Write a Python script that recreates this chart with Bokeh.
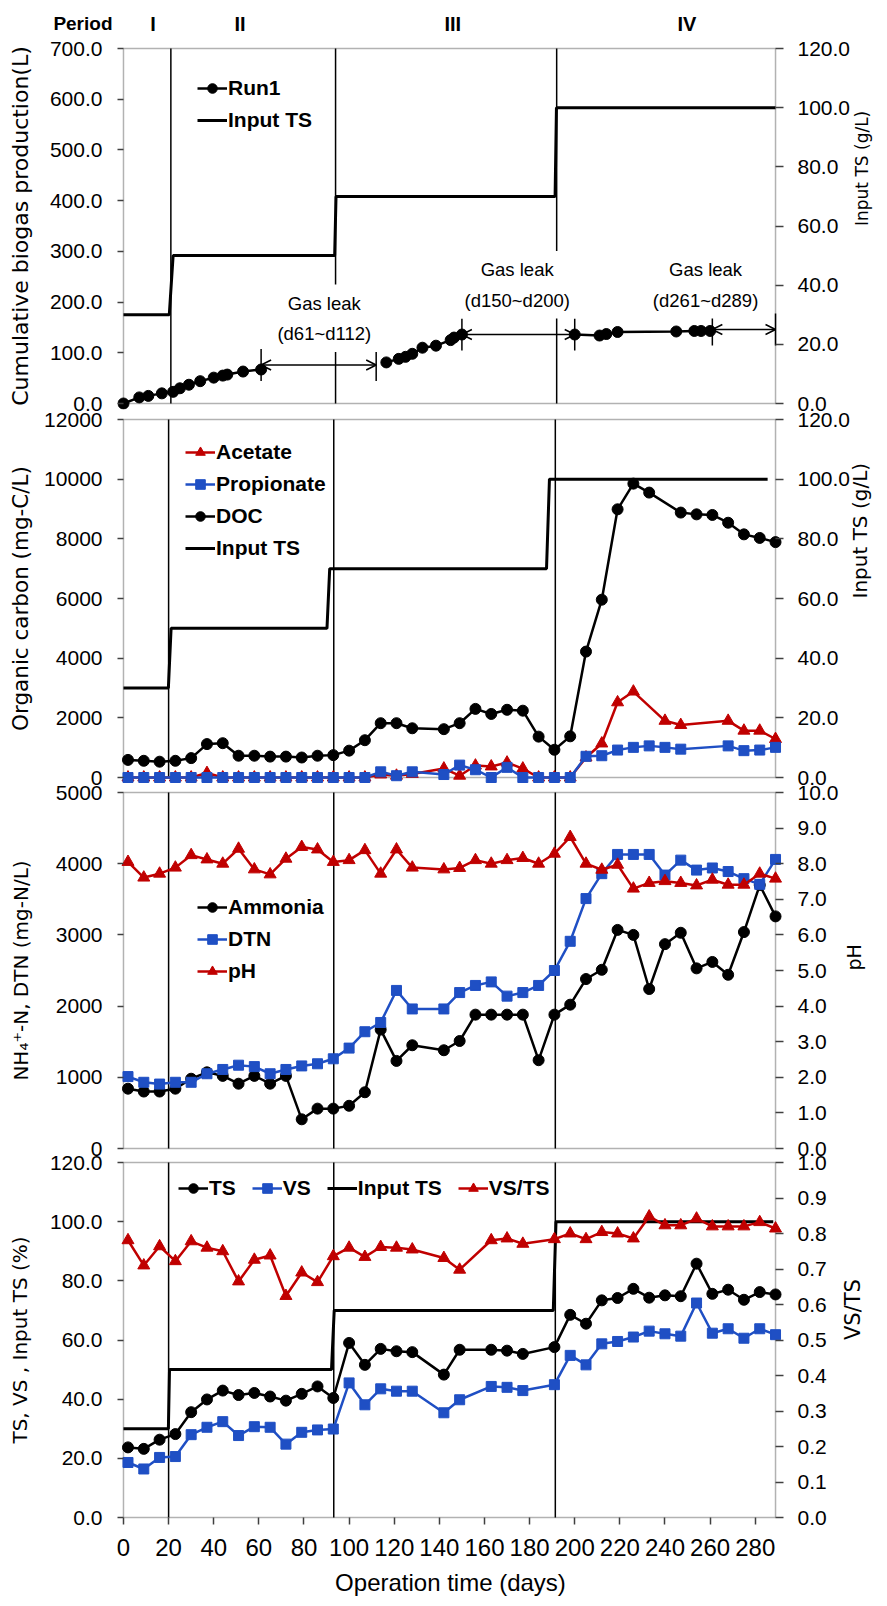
import math
from bokeh.plotting import figure
from bokeh.layouts import column
from bokeh.models import (Range1d, LinearAxis, FixedTicker, PrintfTickFormatter,
                          BoxAnnotation, Label, Legend, LegendItem, Arrow, OpenHead)
from bokeh.embed import file_html
from bokeh.resources import INLINE

nan = float("nan")

# ---------------------------------------------------------------- data
X_MAX = 289                      # last day of operation
day_ticks = list(range(0, 281, 20))

# weekly sampling days
sample_days = [2, 9, 16, 23, 30, 37, 44, 51, 58, 65, 72, 79, 86, 93, 100, 107, 114, 121, 128,
               142, 149, 156, 163, 170, 177, 184, 191, 198, 205, 212, 219, 226, 233, 240,
               247, 254, 261, 268, 275, 282, 289]

# cumulative biogas production (L), recorded between the gas leaks
biogas_days_1 = [0, 7, 11, 17, 22, 25, 29, 34, 40, 44, 46, 53, 61]
biogas_vals_1 = [0, 12, 15, 20, 23, 30, 37, 44, 51, 55, 57, 63, 67]
biogas_days_2 = [116.5, 122, 125, 128, 132.5, 138.5, 145, 146.5, 150]
biogas_vals_2 = [81, 88, 92, 98, 110, 114, 125, 130, 136]
biogas_days_3 = [200, 211, 214, 219, 245, 253, 256, 260]
biogas_vals_3 = [136, 134, 137, 141, 142, 143, 143, 143]

# gas leak periods (days)
leak_from = [61, 150, 261]
leak_to = [112, 200, 289]
leak_level = [76, 136, 146]
leak_labels = ["Gas leak\n(d61~d112)", "Gas leak\n(d150~d200)", "Gas leak\n(d261~d289)"]
leak_label_day = [89, 174.5, 258]
leak_label_level = [168, 234, 234]

# operating periods
period_names = ["I", "II", "III", "IV"]
period_label_days = [13, 51.5, 145.5, 249]
period_bounds_top = [21, 94, 192]
period_bounds = [20, 93.2, 191.4]

# input TS schedule (g/L, or %)
input_ts_vals = [30, 30, 50, 50, 70, 70, 100, 100]
input_ts_days_1 = [0, 20.3, 22, 93.6, 94.2, 191.3, 191.9, 289]
input_ts_days_2 = [0, 19.9, 21.1, 90.2, 91.4, 187.5, 188.8, 285.5]
input_ts_days_4 = [0, 19.9, 20.4, 92.2, 93.4, 190.5, 191.7, 288]

# organic carbon (mg-C/L)
doc_days = [2, 9, 16, 23, 30, 37, 44, 51, 58, 65, 72, 79, 86, 93, 100, 107, 114, 121, 128,
            142, 149, 156, 163, 170, 177, 184, 191, 198, 205, 212, 219, 226, 233,
            247, 254, 261, 268, 275, 282, 289]
doc_vals = [590, 560, 530, 560, 650, 1120, 1150, 730, 730, 700, 700, 670, 730, 750, 900, 1250,
            1820, 1820, 1650, 1620, 1820, 2300, 2130, 2270, 2240, 1370, 930, 1380, 4220, 5960,
            8990, 9850, 9550, 8880, 8820, 8800, 8540, 8150, 8030, 7890]
acetate_days = [2, 9, 16, 23, 30, 37, 44, 51, 58, 65, 72, 79, 86, 93, 100, 107, 114, 121, 128,
                142, 149, 156, 163, 170, 177, 184, 191, 198, 205, 212, 219, 226,
                240, 247, 268, 275, 282, 289]
acetate_vals = [0, 0, 0, 0, 0, 150, 0, 0, 0, 0, 0, 0, 0, 0, 0, 0, 100, 60, 120,
                300, 60, 400, 370, 500, 300, 0, 0, 0, 670, 1140, 2520, 2880,
                1900, 1760, 1900, 1570, 1570, 1290]
propionate_days = [2, 9, 16, 23, 30, 37, 44, 51, 58, 65, 72, 79, 86, 93, 100, 107, 114, 121, 128,
                   142, 149, 156, 163, 170, 177, 184, 191, 198, 205, 212, 219, 226, 233, 240,
                   247, 268, 275, 282, 289]
propionate_vals = [0, 0, 0, 0, 0, 0, 0, 0, 0, 0, 0, 0, 0, 0, 0, 0, 190, 60, 190,
                   100, 415, 260, 0, 340, 0, 0, 0, 0, 710, 730, 920, 1010, 1060, 1010,
                   950, 1060, 900, 920, 1010]

# nitrogen (mg-N/L) and pH
ammonia_vals = [840, 800, 800, 840, 980, 1070, 1020, 910, 1020, 910, 1020, 410, 560, 560, 600,
                790, 1670, 1230, 1450, 1380, 1510, 1880, 1880, 1880, 1880, 1240, 1880, 2020,
                2380, 2510, 3070, 3000, 2240, 2870, 3030, 2530, 2620, 2440, 3040, 3700, 3260]
dtn_vals = [1010, 930, 905, 930, 930, 1050, 1110, 1170, 1150, 1050, 1110, 1160, 1190, 1260,
            1410, 1640, 1770, 2220, 1960, 1960, 2190, 2290, 2340, 2140, 2190, 2290, 2500, 2910,
            3510, 3860, 4130, 4130, 4130, 3840, 4050, 3910, 3940, 3890, 3790, 3710, 4060]
ph_vals = [8.05, 7.61, 7.72, 7.89, 8.24, 8.12, 8.00, 8.42, 7.84, 7.70, 8.14, 8.47, 8.40, 8.05,
           8.10, 8.38, 7.72, 8.40, 7.89, 7.84, 7.88, 8.10, 8.00, 8.10, 8.16, 8.00, 8.28, 8.75,
           8.00, 7.83, 7.97, 7.30, 7.46, 7.51, 7.46, 7.39, 7.55, 7.41, 7.41, 7.72, 7.58]

# solids (%) and VS/TS
solids_days = [2, 9, 16, 23, 30, 37, 44, 51, 58, 65, 72, 79, 86, 93, 100, 107, 114, 121, 128,
               142, 149, 163, 170, 177, 191, 198, 205, 212, 219, 226, 233, 240, 247, 254,
               261, 268, 275, 282, 289]
ts_vals = [23.7, 23.2, 26.3, 28.2, 35.6, 39.9, 42.9, 41.4, 42.1, 40.9, 39.5, 41.8, 44.3, 40.4,
           59.0, 51.6, 57.0, 56.2, 55.9, 48.3, 56.7, 56.7, 56.4, 55.3, 57.6, 68.5, 65.5, 73.4,
           74.2, 77.3, 74.3, 75.1, 74.8, 85.8, 75.6, 77.0, 73.6, 76.2, 75.4]
vs_vals = [18.6, 16.4, 20.3, 20.6, 28.0, 30.5, 32.4, 27.7, 30.7, 30.5, 24.8, 28.8, 29.6, 29.9,
           45.5, 38.1, 43.5, 42.7, 42.7, 35.4, 39.8, 44.3, 44.0, 42.9, 44.9, 54.8, 51.6, 58.7,
           59.5, 61.0, 63.0, 62.1, 61.3, 72.5, 62.3, 63.8, 60.6, 63.8, 61.8]
vsts_vals = [0.781, 0.710, 0.764, 0.722, 0.778, 0.760, 0.750, 0.665, 0.726, 0.738, 0.624, 0.690,
             0.663, 0.736, 0.760, 0.734, 0.762, 0.760, 0.755, 0.731, 0.698, 0.781, 0.786, 0.771,
             0.784, 0.800, 0.784, 0.804, 0.800, 0.786, 0.848, 0.823, 0.823, 0.842, 0.820, 0.820,
             0.820, 0.832, 0.814]

# ---------------------------------------------------------------- styling
FONT_NUM = "Liberation Sans"
FONT_TITLE = "DejaVu Sans"
RED = "#c00000"
BLUE = "#1f4fc4"
BLACK = "#000000"
TICK = "#404040"

FIG_W = 887
BOX_L, BOX_R = 123, 777          # plotting box edges on the page
PAD_L, PAD_R, PAD_Y = 6, 8, 6    # room around the box so markers are not cut
EXT = 13                         # canvas room above/below a box for its end tick labels
FRAME_L = BOX_L - PAD_L
PX_PER_DAY = (BOX_R - BOX_L) / X_MAX


def make_panel(prev_bottom, box_top, box_bottom, y_max, r_max, bottom=None):
    """One stacked panel; positions are page pixels. Neighbouring canvases overlap
    slightly (transparent fills) so the end tick labels are not cut."""
    top = box_top - EXT
    if bottom is None:
        bottom = box_bottom + EXT
    box_h = box_bottom - box_top
    pad_l = PAD_Y * y_max / box_h
    pad_r = PAD_Y * r_max / box_h
    p = figure(width=FIG_W, height=bottom - top, title=None,
               x_range=Range1d(-PAD_L / PX_PER_DAY, X_MAX + PAD_R / PX_PER_DAY),
               y_range=Range1d(-pad_l, y_max + pad_l),
               x_axis_location=None, y_axis_location=None,
               output_backend="svg", toolbar_location=None,
               min_border_left=FRAME_L, min_border_right=FIG_W - BOX_R - PAD_R,
               min_border_top=box_top - top - PAD_Y,
               min_border_bottom=bottom - box_bottom - PAD_Y,
               margin=(top - prev_bottom, 0, 0, 0))
    p.extra_y_ranges = {"r": Range1d(-pad_r, r_max + pad_r)}
    p.grid.visible = False
    p.outline_line_color = None
    p.background_fill_color = None
    p.border_fill_color = None
    p.add_layout(BoxAnnotation(left=0, right=X_MAX, bottom=0, top=y_max,
                               fill_color=None, fill_alpha=0, line_color=BLACK,
                               line_width=1.5, level="underlay"))
    return p, top, bottom, box_bottom + PAD_Y - top


def style_axis(ax, tick_in, tick_out, standoff, size="21px"):
    ax.axis_line_color = None
    ax.major_tick_in = tick_in
    ax.major_tick_out = tick_out
    ax.major_tick_line_color = TICK
    ax.major_tick_line_width = 1.5
    ax.minor_tick_line_color = None
    ax.major_label_text_font = FONT_NUM
    ax.major_label_text_font_size = size
    ax.major_label_text_color = BLACK
    ax.major_label_standoff = standoff
    ax.axis_label_text_font_style = "normal"
    ax.axis_label_text_color = BLACK


def add_y_axes(p, y_max, r_max, left_ticks, right_ticks, left_fmt, right_fmt,
               left_title, left_size, left_standoff, right_title, right_size, right_standoff):
    la = LinearAxis(bounds=(0, y_max), ticker=FixedTicker(ticks=left_ticks),
                    formatter=PrintfTickFormatter(format=left_fmt))
    style_axis(la, PAD_L, 0, 15)
    la.axis_label = left_title
    la.axis_label_text_font = FONT_TITLE
    la.axis_label_text_font_size = left_size
    la.axis_label_standoff = left_standoff
    p.add_layout(la, "left")
    ra = LinearAxis(y_range_name="r", bounds=(0, r_max), ticker=FixedTicker(ticks=right_ticks),
                    formatter=PrintfTickFormatter(format=right_fmt))
    style_axis(ra, PAD_R, 0, 14)
    ra.axis_label = right_title
    ra.axis_label_text_font = FONT_TITLE
    ra.axis_label_text_font_size = right_size
    ra.axis_label_standoff = right_standoff
    ra.axis_label_orientation = math.pi / 2
    p.add_layout(ra, "right")


def add_legend(p, fb, top, items, cx, cy_top, n_rows, orientation="vertical", spacing=8,
               item_h=24):
    cy_top -= top
    if orientation == "vertical":
        bottom = cy_top + n_rows * item_h + (n_rows - 1) * spacing
    else:
        bottom = cy_top + item_h
    lg = Legend(items=items, location=(cx - FRAME_L, fb - bottom),
                orientation=orientation, spacing=spacing, padding=0, margin=0,
                glyph_width=30, glyph_height=item_h, label_height=item_h, label_standoff=1,
                border_line_color=None, background_fill_alpha=0,
                label_text_font=FONT_NUM, label_text_font_style="bold",
                label_text_font_size="21px", label_text_color=BLACK)
    p.add_layout(lg)


def series(p, xs, ys, color, marker, size, y_range_name="default"):
    ln = p.line(xs, ys, line_color=color, line_width=2.5, y_range_name=y_range_name)
    sc = p.scatter(xs, ys, marker=marker, size=size, fill_color=color, line_color=color,
                   y_range_name=y_range_name)
    return [ln, sc]


# ---------------------------------------------------------------- period header
HDR_H = 35
hdr = figure(width=FIG_W, height=HDR_H, title=None,
             x_range=Range1d(-BOX_L / PX_PER_DAY, (FIG_W - BOX_L) / PX_PER_DAY),
             y_range=Range1d(0, HDR_H), x_axis_location=None, y_axis_location=None,
             output_backend="svg", toolbar_location=None, min_border=0)
hdr.frame_align = False
hdr.grid.visible = False
hdr.outline_line_color = None
hdr.border_fill_color = None
hdr.background_fill_color = None
for name, d in zip(period_names, period_label_days):
    hdr.add_layout(Label(x=d, y=HDR_H - 23, text=name, text_align="center",
                         text_baseline="middle", text_font=FONT_NUM, text_font_style="bold",
                         text_font_size="20px", text_color=BLACK))
hdr.add_layout(Label(x=(112 - BOX_L) / PX_PER_DAY, y=HDR_H - 23, text="Period",
                     text_align="right", text_baseline="middle", text_font=FONT_NUM,
                     text_font_style="bold", text_font_size="19px", text_color=BLACK))

# ---------------------------------------------------------------- panel 1: biogas
p1, T1, B1, fb1 = make_panel(HDR_H, 48, 403, 700, 120)
add_y_axes(p1, 700, 120, list(range(0, 701, 100)), list(range(0, 121, 20)), "%.1f", "%.1f",
           "Cumulative biogas production(L)", "22px", 14, "Input TS (g/L)", "17px", 9)
p1.segment(x0=period_bounds_top, y0=0, x1=period_bounds_top, y1=700,
           line_color=BLACK, line_width=1.5)
ts1 = p1.line(input_ts_days_1, input_ts_vals, line_color=BLACK, line_width=3, y_range_name="r")
biogas_x = biogas_days_1 + [nan] + biogas_days_2 + [nan] + biogas_days_3
biogas_y = biogas_vals_1 + [nan] + biogas_vals_2 + [nan] + biogas_vals_3
run1 = series(p1, biogas_x, biogas_y, BLACK, "circle", 11)

bar_half = 16 * 700 / 355
bar_x = leak_from + leak_to
bar_lv = leak_level + leak_level
p1.segment(x0=bar_x, y0=[v - bar_half for v in bar_lv], x1=bar_x,
           y1=[v + bar_half for v in bar_lv], line_color=BLACK, line_width=1.5)
for a, b, lv in zip(leak_from, leak_to, leak_level):
    p1.add_layout(Arrow(x_start=a, y_start=lv, x_end=b, y_end=lv, line_width=1.5,
                        line_color=BLACK,
                        start=OpenHead(size=10, line_width=1.5, line_color=BLACK),
                        end=OpenHead(size=10, line_width=1.5, line_color=BLACK)))
for txt, d, lv in zip(leak_labels, leak_label_day, leak_label_level):
    p1.add_layout(Label(x=d, y=lv, text=txt, text_align="center", text_baseline="middle",
                        text_font=FONT_NUM, text_font_size="18.5px", text_line_height=1.45,
                        text_color=BLACK, background_fill_color="white", padding=8))
add_legend(p1, fb1, T1, [LegendItem(label="Run1", renderers=run1),
                         LegendItem(label="Input TS", renderers=[ts1])], 197, 76, 2)

# ---------------------------------------------------------------- panel 2: organic carbon
p2, T2, B2, fb2 = make_panel(B1, 419, 777, 12000, 120)
add_y_axes(p2, 12000, 120, list(range(0, 12001, 2000)), list(range(0, 121, 20)), "%d", "%.1f",
           "Organic carbon (mg-C/L)", "21.5px", 8, "Input TS (g/L)", "20px", 7)
p2.segment(x0=period_bounds, y0=0, x1=period_bounds, y1=12000, line_color=BLACK, line_width=1.5)
ts2 = p2.line(input_ts_days_2, input_ts_vals, line_color=BLACK, line_width=3, y_range_name="r")
doc = series(p2, doc_days, doc_vals, BLACK, "circle", 11)
ace = series(p2, acetate_days, acetate_vals, RED, "triangle", 12)
pro = series(p2, propionate_days, propionate_vals, BLUE, "square", 10)
add_legend(p2, fb2, T2, [LegendItem(label="Acetate", renderers=ace),
                         LegendItem(label="Propionate", renderers=pro),
                         LegendItem(label="DOC", renderers=doc),
                         LegendItem(label="Input TS", renderers=[ts2])], 185, 440, 4)

# ---------------------------------------------------------------- panel 3: nitrogen and pH
p3, T3, B3, fb3 = make_panel(B2, 792, 1148, 5000, 10)
add_y_axes(p3, 5000, 10, list(range(0, 5001, 1000)), list(range(0, 11)), "%d", "%.1f",
           "NH\u2084\u207a-N, DTN (mg-N/L)", "20px", 20, "pH", "19px", 13)
p3.segment(x0=period_bounds, y0=0, x1=period_bounds, y1=5000, line_color=BLACK, line_width=1.5)
amm = series(p3, sample_days, ammonia_vals, BLACK, "circle", 11)
dtn = series(p3, sample_days, dtn_vals, BLUE, "square", 10)
ph = series(p3, sample_days, ph_vals, RED, "triangle", 12, y_range_name="r")
add_legend(p3, fb3, T3, [LegendItem(label="Ammonia", renderers=amm),
                         LegendItem(label="DTN", renderers=dtn),
                         LegendItem(label="pH", renderers=ph)], 197, 895, 3)

# ---------------------------------------------------------------- panel 4: solids
p4, T4, B4, fb4 = make_panel(B3, 1162, 1517, 120, 1.0, bottom=1606)
add_y_axes(p4, 120, 1.0, list(range(0, 121, 20)), [i / 10 for i in range(11)], "%.1f", "%.1f",
           "TS, VS , Input TS (%)", "20px", 15, "VS/TS", "21px", 23)
xa = LinearAxis(bounds=(0, X_MAX), ticker=FixedTicker(ticks=day_ticks))
style_axis(xa, PAD_Y, 1, 14, size="24px")
xa.axis_label = "Operation time (days)"
xa.axis_label_text_font = FONT_NUM
xa.axis_label_text_font_size = "24px"
xa.axis_label_standoff = 10
p4.add_layout(xa, "below")
p4.segment(x0=period_bounds, y0=0, x1=period_bounds, y1=120, line_color=BLACK, line_width=1.5)
ts4 = p4.line(input_ts_days_4, input_ts_vals, line_color=BLACK, line_width=3)
tsr = series(p4, solids_days, ts_vals, BLACK, "circle", 11)
vsr = series(p4, solids_days, vs_vals, BLUE, "square", 10)
rat = series(p4, solids_days, vsts_vals, RED, "triangle", 12, y_range_name="r")
add_legend(p4, fb4, T4, [LegendItem(label="TS", renderers=tsr),
                         LegendItem(label="VS", renderers=vsr),
                         LegendItem(label="Input TS", renderers=[ts4]),
                         LegendItem(label="VS/TS", renderers=rat)], 178, 1176, 1,
           orientation="horizontal", spacing=16)

layout = column(hdr, p1, p2, p3, p4, spacing=0)
html = file_html(layout, INLINE)
html = html.replace("<head>", "<head><style>body{margin:0;background:white;}</style>", 1)
open("out.html", "w").write(html)
